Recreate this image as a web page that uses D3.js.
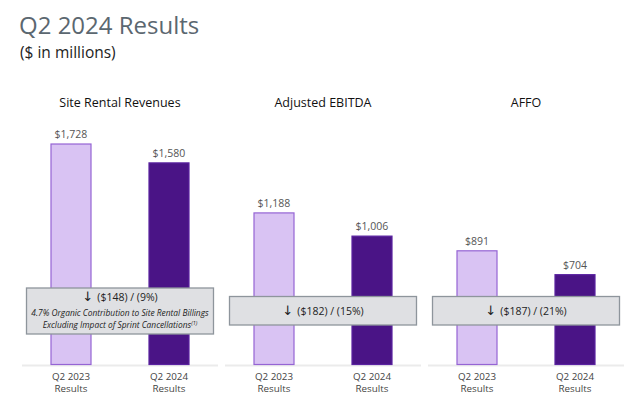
<!DOCTYPE html>
<html>
<head>
<meta charset="utf-8">
<script src="https://cdn.jsdelivr.net/npm/d3@7"></script>
<style>
  body { margin: 0; background: #fff; }
  text { font-family: "Open Sans", "Noto Sans", sans-serif; }
</style>
</head>
<body>
<div id="chart"></div>
<script>
const metrics = ["Site Rental Revenues", "Adjusted EBITDA", "AFFO"];
const periods = ["Q2 2023", "Q2 2024"];
const q2_2023 = [1728, 1188, 891];
const q2_2024 = [1580, 1006, 704];
const changes = ["($148) / (9%)", "($182) / (15%)", "($187) / (21%)"];
const notes = [
  ["4.7% Organic Contribution to Site Rental Billings", "Excluding Impact of Sprint Cancellations"],
  [],
  []
];

const width = 640, height = 418;
const baseline = 364.5;

const svg = d3.select("#chart").append("svg")
    .attr("width", width).attr("height", height);

// titles
svg.append("text")
    .attr("x", 19).attr("y", 34)
    .attr("font-size", 24)
    .attr("fill", "#5b6770")
    .text("Q2 2024 Results");

svg.append("text")
    .attr("x", 20).attr("y", 57.5)
    .attr("font-size", 15.5)
    .attr("fill", "#222")
    .text("($ in millions)");

const panel = d3.scaleBand()
    .domain(metrics)
    .range([22, 624])
    .paddingInner(0.0345);

const x = d3.scalePoint()
    .domain(periods)
    .range([0, panel.bandwidth()])
    .padding(0.5);

const y = d3.scaleLinear()
    .domain([0, 2000])
    .range([baseline, 109.3]);

const barW = 40;
const fills = { "Q2 2023": "#d9c3f3", "Q2 2024": "#4a1486" };
const strokes = { "Q2 2023": "#9564d4", "Q2 2024": "#5a22a0" };

const rows = metrics.map((m, i) => ({
    metric: m,
    values: [
        { period: periods[0], value: q2_2023[i] },
        { period: periods[1], value: q2_2024[i] }
    ],
    change: changes[i],
    note: notes[i]
}));

const g = svg.selectAll("g.panel")
    .data(rows)
    .enter().append("g")
    .attr("class", "panel")
    .attr("transform", d => `translate(${panel(d.metric)},0)`);

// baseline
g.append("line")
    .attr("x1", 0).attr("x2", panel.bandwidth())
    .attr("y1", baseline + 1).attr("y2", baseline + 1)
    .attr("stroke", "#ebebeb")
    .attr("stroke-width", 2);

// panel title
g.append("text")
    .attr("x", panel.bandwidth() / 2)
    .attr("y", 107)
    .attr("text-anchor", "middle")
    .attr("font-size", 12.5)
    .attr("fill", "#111")
    .text(d => d.metric);

// bars
g.selectAll("rect.bar")
    .data(d => d.values)
    .enter().append("rect")
    .attr("class", "bar")
    .attr("x", d => x(d.period) - barW / 2)
    .attr("y", d => y(d.value))
    .attr("width", barW)
    .attr("height", d => baseline - y(d.value))
    .attr("fill", d => fills[d.period])
    .attr("stroke", d => strokes[d.period])
    .attr("stroke-width", 1.2);

// value labels
g.selectAll("text.val")
    .data(d => d.values)
    .enter().append("text")
    .attr("class", "val")
    .attr("x", d => x(d.period))
    .attr("y", d => y(d.value) - 6)
    .attr("text-anchor", "middle")
    .attr("font-size", 10.5)
    .attr("fill", "#555")
    .text(d => "$" + d3.format(",")(d.value));

// category labels, two lines
const catLines = ["period", "Results"];
catLines.forEach((key, li) => {
    g.selectAll("text.cat" + li)
        .data(d => d.values)
        .enter().append("text")
        .attr("class", "cat" + li)
        .attr("x", d => x(d.period))
        .attr("y", 379.5 + li * 12)
        .attr("text-anchor", "middle")
        .attr("font-size", 9.8)
        .attr("fill", "#444")
        .text(d => li === 0 ? d.period : key);
});

// change boxes
const box = g.append("g")
    .attr("transform", d => d.note.length ? "translate(0,288)" : "translate(0,296.5)");

box.append("rect")
    .attr("x", 4.5)
    .attr("width", panel.bandwidth() - 9)
    .attr("height", d => d.note.length ? 46 : 28.5)
    .attr("fill", "#dfe0e3")
    .attr("stroke", "#8e959c")
    .attr("stroke-width", 1.3);

const chg = box.append("text")
    .attr("x", panel.bandwidth() / 2)
    .attr("y", d => d.note.length ? 13 : 18)
    .attr("text-anchor", "middle")
    .attr("font-size", 10.5)
    .attr("fill", "#222");
chg.append("tspan")
    .attr("font-size", 13)
    .attr("font-family", "DejaVu Sans")
    .text("\u2193 ");
chg.append("tspan")
    .text(d => d.change);

box.each(function(d) {
    const sel = d3.select(this);
    d.note.forEach((line, i) => {
        const t = sel.append("text")
            .attr("x", panel.bandwidth() / 2)
            .attr("y", 27.5 + i * 12)
            .attr("text-anchor", "middle")
            .attr("font-size", 8.4)
            .attr("font-style", "italic")
            .attr("fill", "#222")
            .text(line);
        if (i === d.note.length - 1) {
            t.append("tspan")
                .attr("font-size", 5.5)
                .attr("dy", -3)
                .text("(1)");
        }
    });
});
</script>
</body>
</html>
